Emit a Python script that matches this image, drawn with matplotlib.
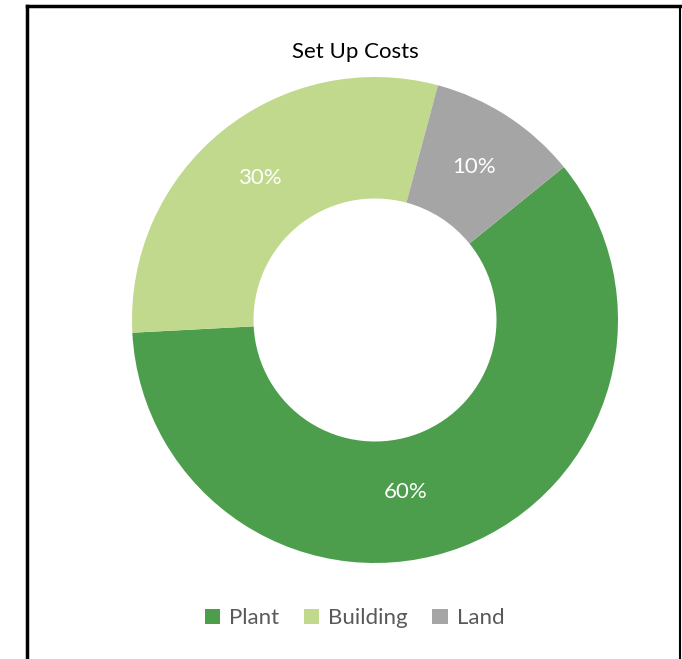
import numpy as np
import matplotlib.pyplot as plt
from matplotlib.lines import Line2D
from matplotlib.patches import Patch

plt.rcParams['font.family'] = ['Lato', 'DejaVu Sans']

labels = ["Plant", "Building", "Land"]
shares = [60, 30, 10]
colors = ["#4C9E4C", "#C1D98C", "#A5A5A5"]

fig = plt.figure(figsize=(6.82, 6.59), dpi=100)
ax = fig.add_axes([132/682, 96/659, 486/682, 486/659])

wedges, texts, autotexts = ax.pie(shares, colors=colors, startangle=39, counterclock=False,
                                  radius=1, wedgeprops=dict(width=0.5, edgecolor="none"),
                                  autopct="%d%%", pctdistance=0.75,
                                  textprops=dict(color="white", fontsize=16))
ax.set_xlim(-1, 1)
ax.set_ylim(-1, 1)
ax.set_aspect("equal")

# Excel nudges the big label a bit off the slice middle
ang = np.deg2rad(90 - 170)
autotexts[0].set_position((0.72 * np.cos(ang), 0.72 * np.sin(ang)))

fig.text(0.521, 0.921, "Set Up Costs", ha="center", va="center", fontsize=16, color="black")

handles = [Patch(facecolor=c, edgecolor="none") for c in colors]
fig.legend(handles, labels, loc="center", bbox_to_anchor=(0.52, 0.062), ncol=3, frameon=False,
           fontsize=16, labelcolor="#595959", handlelength=0.7, handleheight=0.7,
           handletextpad=0.4, columnspacing=1.1)

# chart frame
fig.add_artist(Line2D([27/682, 27/682], [0, 1 - 6/659], color="black", lw=2.5, transform=fig.transFigure))
fig.add_artist(Line2D([27/682, 680/682], [1 - 6/659, 1 - 6/659], color="black", lw=2.5, transform=fig.transFigure))
fig.add_artist(Line2D([680/682, 680/682], [0, 1 - 6/659], color="black", lw=1.5, transform=fig.transFigure))

fig.savefig("out.png", dpi=100)
